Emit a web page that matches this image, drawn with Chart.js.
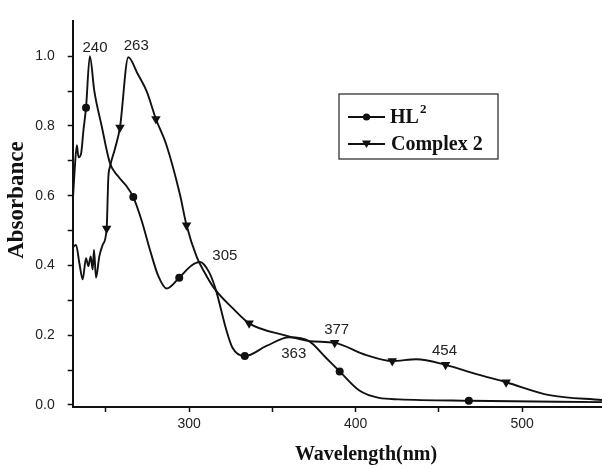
<!DOCTYPE html>
<html>
<head>
<meta charset="utf-8">
<script src="https://cdn.jsdelivr.net/npm/chart.js@4/dist/chart.umd.min.js"></script>
<style>
html,body{margin:0;padding:0;background:#fff;}
#wrap{width:602px;height:468px;position:relative;}
</style>
</head>
<body>
<div id="wrap"><canvas id="c" width="602" height="468"></canvas></div>
<script>
// ---- data ----
const hlWavelength = [230,231,232.5,233.5,235,236.5,238,240.3,243,247.4,252.4,257.4,262.4,266.4,271.4,276.4,281.4,286.4,294,301.4,306.5,312,316,322,326,333.4,346.4,360,372,382,390.4,402,414,426,468,548];
const hlAbsorbance = [0.58,0.66,0.745,0.71,0.72,0.79,0.852,1.0,0.90,0.80,0.693,0.655,0.627,0.596,0.529,0.445,0.37,0.334,0.365,0.40,0.41,0.38,0.33,0.22,0.164,0.14,0.169,0.194,0.183,0.136,0.096,0.042,0.02,0.016,0.012,0.008];
const hlMarkers = [238,266.4,294,333.4,390.4,468];

const cxWavelength = [230.4,232,234,236,238,239.4,240.8,242,242.8,244,246,248,250.4,251.4,252.4,255.4,258.4,263.4,269,274.4,280,286.4,294.4,298.4,304.4,310.4,315.4,326.4,336,356.4,372.4,387.4,406.4,422,436.4,454,472,490.4,516.4,548];
const cxAbsorbance = [0.454,0.459,0.407,0.36,0.421,0.398,0.426,0.388,0.445,0.365,0.426,0.459,0.506,0.651,0.683,0.735,0.796,0.997,0.95,0.90,0.82,0.744,0.604,0.515,0.426,0.37,0.332,0.276,0.234,0.201,0.183,0.178,0.143,0.126,0.131,0.115,0.089,0.065,0.028,0.014];
const cxMarkers = [250.4,258.4,280,298.4,336,387.4,422,454,490.4];

const seriesNames = ['HL²','Complex 2'];
const xTickValues = [250,300,350,400,450,500];
const xTickLabels = {300:'300',400:'400',500:'500'};
const yTickValues = [0,0.1,0.2,0.3,0.4,0.5,0.6,0.7,0.8,0.9,1.0];
const yTickLabels = {0:'0.0',2:'0.2',4:'0.4',6:'0.6',8:'0.8',10:'1.0'};

const peakLabels = ['240','263','305','363','377','454'];
const peakLabelX = [243.4,268.2,321.4,362.8,388.6,453.4];
const peakLabelY = [1.025,1.029,0.427,0.146,0.216,0.154];

const xTitle = 'Wavelength(nm)';
const yTitle = 'Absorbance';

// ---- build ----
function pts(xs, ys){ return xs.map((x,i)=>({x:x, y:ys[i]})); }
const INK = '#111';

const annotationPlugin = {
  id:'annot',
  afterDatasetsDraw(chart){
    const {ctx, scales:{x,y}} = chart;
    ctx.save();
    ctx.fillStyle = '#222';
    ctx.font = '15px "Liberation Sans", Arial, sans-serif';
    ctx.textAlign = 'center';
    ctx.textBaseline = 'middle';
    peakLabels.forEach((t,i)=>{
      ctx.fillText(t, x.getPixelForValue(peakLabelX[i]), y.getPixelForValue(peakLabelY[i]));
    });
    // axis titles
    ctx.fillStyle = '#111';
    ctx.font = 'bold 20px "Liberation Serif", "Times New Roman", serif';
    ctx.fillText(xTitle, 366, 455);
    ctx.save();
    ctx.translate(17, 200);
    ctx.rotate(-Math.PI/2);
    ctx.font = 'bold 23px "Liberation Serif", "Times New Roman", serif';
    ctx.fillText(yTitle, 0, 0);
    ctx.restore();
    // legend box
    const bx=339, by=94, bw=159, bh=65;
    ctx.strokeStyle = '#333';
    ctx.lineWidth = 1.3;
    ctx.strokeRect(bx, by, bw, bh);
    const rows = [117, 144];
    chart.data.datasets.forEach((ds,i)=>{
      const yy = rows[i];
      ctx.strokeStyle = INK; ctx.lineWidth = 1.8;
      ctx.beginPath(); ctx.moveTo(348, yy); ctx.lineTo(385, yy); ctx.stroke();
      ctx.fillStyle = INK;
      if (i===0){
        ctx.beginPath(); ctx.arc(366.5, yy, 3.6, 0, Math.PI*2); ctx.fill();
      } else {
        ctx.beginPath(); ctx.moveTo(362, yy-3.5); ctx.lineTo(371, yy-3.5); ctx.lineTo(366.5, yy+4); ctx.closePath(); ctx.fill();
      }
      ctx.textAlign='left'; ctx.textBaseline='middle';
      ctx.font = 'bold 20px "Liberation Serif", "Times New Roman", serif';
      if (i===0){
        ctx.fillText('HL', 390, yy+1);
        const w = ctx.measureText('HL').width;
        ctx.font = 'bold 13px "Liberation Serif", "Times New Roman", serif';
        ctx.fillText('2', 390+w+1, yy-7);
      } else {
        ctx.fillText(ds.label, 391, yy+1);
      }
    });
    ctx.restore();
  }
};

function radiusFn(xs, marks, r){
  return (c)=> marks.includes(xs[c.dataIndex]) ? r : 0;
}

new Chart(document.getElementById('c'), {
  type:'line',
  data:{
    datasets:[
      {label:seriesNames[0], data:pts(hlWavelength, hlAbsorbance), borderColor:INK, backgroundColor:INK,
       borderWidth:1.9, cubicInterpolationMode:'monotone', pointStyle:'circle',
       pointRadius:radiusFn(hlWavelength, hlMarkers, 4), pointBorderWidth:0, pointHoverRadius:0},
      {label:seriesNames[1], data:pts(cxWavelength, cxAbsorbance), borderColor:INK, backgroundColor:INK,
       borderWidth:1.9, cubicInterpolationMode:'monotone', pointStyle:'triangle', rotation:180,
       pointRadius:radiusFn(cxWavelength, cxMarkers, 5.5), pointBorderWidth:0, pointHoverRadius:0}
    ]
  },
  options:{
    responsive:false, animation:false, events:[],
    layout:{padding:{top:13.5, right:0, left:0, bottom:0}},
    plugins:{legend:{display:false}, tooltip:{enabled:false}},
    scales:{
      x:{type:'linear', min:230, max:548,
        afterFit(s){ s.height = 61; },
        afterBuildTicks(s){ s.ticks = xTickValues.map(v=>({value:v})); },
        border:{display:true, color:INK, width:2},
        grid:{drawOnChartArea:false, drawTicks:true, tickLength:5, tickColor:INK, tickWidth:1.5},
        ticks:{autoSkip:false, maxRotation:0, padding:4, color:'#222',
          font:{family:'"Liberation Sans", Arial, sans-serif', size:14},
          callback:(v)=> xTickLabels[v] || ''}
      },
      y:{type:'linear', min:-0.006, max:1.1,
        afterFit(s){ s.width = 72.7; },
        afterBuildTicks(s){ s.ticks = yTickValues.map(v=>({value:v})); },
        border:{display:true, color:INK, width:2},
        grid:{drawOnChartArea:false, drawTicks:true, tickLength:5, tickColor:INK, tickWidth:1.5},
        ticks:{autoSkip:false, padding:13, color:'#222',
          font:{family:'"Liberation Sans", Arial, sans-serif', size:14},
          callback:(v)=> { const k=Math.round(v*10); return yTickLabels[k] || ''; }}
      }
    }
  },
  plugins:[annotationPlugin]
});
</script>
</body>
</html>
